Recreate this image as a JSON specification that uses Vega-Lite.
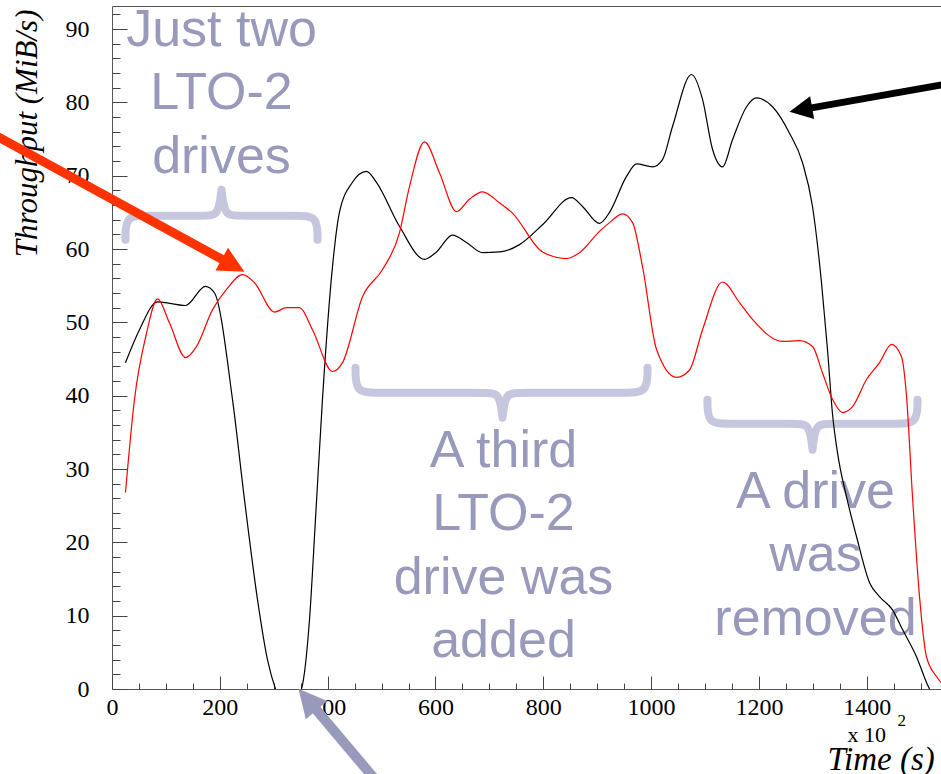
{
  "$schema": "https://vega.github.io/schema/vega-lite/v6.json",
  "width": 830,
  "height": 683,
  "autosize": {"type": "none"},
  "padding": {"left": 112, "top": 6, "right": 0, "bottom": 85},
  "background": "white",
  "config": {
    "view": {"stroke": "#555555", "strokeWidth": 1},
    "axis": {"domain": false, "grid": false, "labelFont": "Liberation Serif", "labelFontSize": 24, "labelColor": "#000000", "tickColor": "#444444", "tickWidth": 1, "labelOverlap": false, "labelFlush": false, "titleFont": "Liberation Serif", "titleFontStyle": "italic", "titleFontWeight": "normal", "titleColor": "#000000"}
  },
  "datasets": {
    "throughput": [
      {"series": "black", "t": 25.0, "v": 44.5},
      {"series": "black", "t": 51.0, "v": 49.0},
      {"series": "black", "t": 84.4, "v": 52.8},
      {"series": "black", "t": 136.3, "v": 52.3},
      {"series": "black", "t": 173.4, "v": 54.9},
      {"series": "black", "t": 190.1, "v": 54.0},
      {"series": "black", "t": 223.5, "v": 39.5},
      {"series": "black", "t": 245.8, "v": 25.8},
      {"series": "black", "t": 269.9, "v": 12.2},
      {"series": "black", "t": 288.4, "v": 4.0},
      {"series": "black", "t": 303.3, "v": 0},
      {"series": "black", "t": 327.0, "v": -3.0},
      {"series": "black", "t": 351.5, "v": 0},
      {"series": "black", "t": 366.3, "v": 9.4},
      {"series": "black", "t": 377.4, "v": 23.1},
      {"series": "black", "t": 390.4, "v": 39.5},
      {"series": "black", "t": 409.0, "v": 57.6},
      {"series": "black", "t": 421.9, "v": 65.0},
      {"series": "black", "t": 446.0, "v": 69.1},
      {"series": "black", "t": 472.0, "v": 70.6},
      {"series": "black", "t": 490.5, "v": 69.1},
      {"series": "black", "t": 533.2, "v": 63.1},
      {"series": "black", "t": 579.6, "v": 58.6},
      {"series": "black", "t": 601.9, "v": 59.6},
      {"series": "black", "t": 631.6, "v": 61.9},
      {"series": "black", "t": 657.6, "v": 60.9},
      {"series": "black", "t": 687.3, "v": 59.5},
      {"series": "black", "t": 718.8, "v": 59.6},
      {"series": "black", "t": 755.9, "v": 60.6},
      {"series": "black", "t": 798.6, "v": 63.3},
      {"series": "black", "t": 852.4, "v": 67.0},
      {"series": "black", "t": 872.8, "v": 65.8},
      {"series": "black", "t": 904.3, "v": 63.5},
      {"series": "black", "t": 922.9, "v": 65.0},
      {"series": "black", "t": 954.4, "v": 69.9},
      {"series": "black", "t": 973.0, "v": 71.6},
      {"series": "black", "t": 1002.6, "v": 71.2},
      {"series": "black", "t": 1021.2, "v": 72.2},
      {"series": "black", "t": 1039.7, "v": 76.7},
      {"series": "black", "t": 1075.0, "v": 83.8},
      {"series": "black", "t": 1095.4, "v": 80.4},
      {"series": "black", "t": 1113.9, "v": 73.6},
      {"series": "black", "t": 1132.5, "v": 71.2},
      {"series": "black", "t": 1151.0, "v": 74.9},
      {"series": "black", "t": 1177.0, "v": 79.4},
      {"series": "black", "t": 1195.5, "v": 80.6},
      {"series": "black", "t": 1225.2, "v": 79.4},
      {"series": "black", "t": 1256.7, "v": 75.8},
      {"series": "black", "t": 1280.8, "v": 71.8},
      {"series": "black", "t": 1299.4, "v": 65.8},
      {"series": "black", "t": 1316.1, "v": 55.4},
      {"series": "black", "t": 1327.2, "v": 46.3},
      {"series": "black", "t": 1336.5, "v": 37.5},
      {"series": "black", "t": 1345.8, "v": 32.2},
      {"series": "black", "t": 1362.5, "v": 26.2},
      {"series": "black", "t": 1381.0, "v": 20.8},
      {"series": "black", "t": 1405.2, "v": 14.5},
      {"series": "black", "t": 1423.7, "v": 12.6},
      {"series": "black", "t": 1447.8, "v": 10.8},
      {"series": "black", "t": 1466.4, "v": 8.1},
      {"series": "black", "t": 1492.3, "v": 4.4},
      {"series": "black", "t": 1510.8, "v": 0.9},
      {"series": "black", "t": 1516.4, "v": 0},
      {"series": "red", "t": 25.0, "v": 26.8},
      {"series": "red", "t": 41.7, "v": 39.5},
      {"series": "red", "t": 64.0, "v": 48.5},
      {"series": "red", "t": 84.4, "v": 53.2},
      {"series": "red", "t": 106.7, "v": 49.9},
      {"series": "red", "t": 136.3, "v": 45.2},
      {"series": "red", "t": 156.7, "v": 46.7},
      {"series": "red", "t": 186.3, "v": 51.7},
      {"series": "red", "t": 212.4, "v": 54.5},
      {"series": "red", "t": 242.1, "v": 56.5},
      {"series": "red", "t": 264.3, "v": 55.4},
      {"series": "red", "t": 301.4, "v": 51.4},
      {"series": "red", "t": 323.7, "v": 52.0},
      {"series": "red", "t": 347.8, "v": 52.0},
      {"series": "red", "t": 371.9, "v": 49.0},
      {"series": "red", "t": 409.0, "v": 43.3},
      {"series": "red", "t": 427.6, "v": 44.5},
      {"series": "red", "t": 464.7, "v": 53.5},
      {"series": "red", "t": 501.8, "v": 57.2},
      {"series": "red", "t": 533.2, "v": 62.2},
      {"series": "red", "t": 551.8, "v": 68.5},
      {"series": "red", "t": 579.6, "v": 74.6},
      {"series": "red", "t": 607.4, "v": 70.4},
      {"series": "red", "t": 639.0, "v": 65.1},
      {"series": "red", "t": 663.1, "v": 66.8},
      {"series": "red", "t": 687.3, "v": 67.8},
      {"series": "red", "t": 718.8, "v": 66.3},
      {"series": "red", "t": 742.8, "v": 64.9},
      {"series": "red", "t": 798.6, "v": 59.6},
      {"series": "red", "t": 843.1, "v": 58.7},
      {"series": "red", "t": 867.2, "v": 59.5},
      {"series": "red", "t": 904.3, "v": 62.4},
      {"series": "red", "t": 922.9, "v": 63.6},
      {"series": "red", "t": 947.0, "v": 64.8},
      {"series": "red", "t": 965.6, "v": 63.6},
      {"series": "red", "t": 984.1, "v": 57.6},
      {"series": "red", "t": 1010.1, "v": 46.3},
      {"series": "red", "t": 1047.2, "v": 42.5},
      {"series": "red", "t": 1071.3, "v": 43.5},
      {"series": "red", "t": 1095.4, "v": 49.0},
      {"series": "red", "t": 1132.5, "v": 55.5},
      {"series": "red", "t": 1164.0, "v": 52.7},
      {"series": "red", "t": 1188.1, "v": 50.4},
      {"series": "red", "t": 1243.8, "v": 47.4},
      {"series": "red", "t": 1275.3, "v": 47.5},
      {"series": "red", "t": 1299.4, "v": 46.7},
      {"series": "red", "t": 1318.0, "v": 43.1},
      {"series": "red", "t": 1336.5, "v": 39.5},
      {"series": "red", "t": 1355.1, "v": 37.7},
      {"series": "red", "t": 1373.6, "v": 38.5},
      {"series": "red", "t": 1399.6, "v": 42.2},
      {"series": "red", "t": 1423.7, "v": 44.5},
      {"series": "red", "t": 1446.0, "v": 47.0},
      {"series": "red", "t": 1464.5, "v": 45.3},
      {"series": "red", "t": 1473.8, "v": 39.9},
      {"series": "red", "t": 1484.9, "v": 26.2},
      {"series": "red", "t": 1497.9, "v": 12.6},
      {"series": "red", "t": 1510.8, "v": 4.4},
      {"series": "red", "t": 1529.4, "v": 1.7},
      {"series": "red", "t": 1539.0, "v": 0.8}
    ],
    "braces": [
      {"brace": "b1", "i": 1, "t": 25.0, "v": 61.27},
      {"brace": "b1", "i": 2, "t": 25.0, "v": 64.54},
      {"brace": "b1", "i": 3, "t": 62.1, "v": 64.54},
      {"brace": "b1", "i": 4, "t": 173.4, "v": 64.54},
      {"brace": "b1", "i": 5, "t": 197.5, "v": 64.54},
      {"brace": "b1", "i": 6, "t": 203.1, "v": 68.09},
      {"brace": "b1", "i": 7, "t": 203.1, "v": 68.09},
      {"brace": "b1", "i": 8, "t": 203.1, "v": 68.09},
      {"brace": "b1", "i": 9, "t": 208.7, "v": 64.54},
      {"brace": "b1", "i": 10, "t": 232.8, "v": 64.54},
      {"brace": "b1", "i": 11, "t": 344.1, "v": 64.54},
      {"brace": "b1", "i": 12, "t": 381.2, "v": 64.54},
      {"brace": "b1", "i": 13, "t": 381.2, "v": 61.27},
      {"brace": "b2", "i": 1, "t": 451.7, "v": 43.82},
      {"brace": "b2", "i": 2, "t": 451.7, "v": 40.41},
      {"brace": "b2", "i": 3, "t": 488.8, "v": 40.41},
      {"brace": "b2", "i": 4, "t": 694.7, "v": 40.41},
      {"brace": "b2", "i": 5, "t": 718.8, "v": 40.41},
      {"brace": "b2", "i": 6, "t": 724.3, "v": 37.0},
      {"brace": "b2", "i": 7, "t": 724.3, "v": 37.0},
      {"brace": "b2", "i": 8, "t": 724.3, "v": 37.0},
      {"brace": "b2", "i": 9, "t": 729.9, "v": 40.41},
      {"brace": "b2", "i": 10, "t": 754.0, "v": 40.41},
      {"brace": "b2", "i": 11, "t": 956.2, "v": 40.41},
      {"brace": "b2", "i": 12, "t": 993.3, "v": 40.41},
      {"brace": "b2", "i": 13, "t": 993.3, "v": 43.82},
      {"brace": "b3", "i": 1, "t": 1104.6, "v": 39.45},
      {"brace": "b3", "i": 2, "t": 1104.6, "v": 36.18},
      {"brace": "b3", "i": 3, "t": 1141.7, "v": 36.18},
      {"brace": "b3", "i": 4, "t": 1269.7, "v": 36.18},
      {"brace": "b3", "i": 5, "t": 1293.8, "v": 36.18},
      {"brace": "b3", "i": 6, "t": 1299.4, "v": 32.63},
      {"brace": "b3", "i": 7, "t": 1299.4, "v": 32.63},
      {"brace": "b3", "i": 8, "t": 1299.4, "v": 32.63},
      {"brace": "b3", "i": 9, "t": 1304.9, "v": 36.18},
      {"brace": "b3", "i": 10, "t": 1329.0, "v": 36.18},
      {"brace": "b3", "i": 11, "t": 1457.0, "v": 36.18},
      {"brace": "b3", "i": 12, "t": 1494.1, "v": 36.18},
      {"brace": "b3", "i": 13, "t": 1494.1, "v": 39.45}
    ],
    "notes": [
      {"label": "Just two\nLTO-2\ndrives", "t": 203.1, "v": 87.7},
      {"label": "A third\nLTO-2\ndrive was\nadded", "t": 726.2, "v": 30.32},
      {"label": "A drive\nwas\nremoved", "t": 1304.9, "v": 24.72}
    ],
    "arrows": [
      {"arrow": "red", "t": -227.2, "v": 75.93, "t2": 213.2, "v2": 58.22, "tipT": 245.8, "tipV": 56.91},
      {"arrow": "black", "t": 1572.0, "v": 82.82, "t2": 1289.5, "v2": 79.15, "tipT": 1256.7, "tipV": 78.73},
      {"arrow": "blue", "t": 496.2, "v": -13.05, "t2": 369.9, "v2": -2.05, "tipT": 345.9, "tipV": 0.04}
    ],
    "exponent": [
      {"label": "x 10", "t": 1364.3, "v": -7.19},
      {"label": "2", "t": 1457.0, "v": -5.0}
    ]
  },
  "encoding": {
    "x": {
      "field": "t", "type": "quantitative",
      "scale": {"domain": [0, 1539.6], "nice": false, "zero": false},
      "axis": {
        "values": [0,50,100,150,200,250,300,350,400,450,500,550,600,650,700,750,800,850,900,950,1000,1050,1100,1150,1200,1250,1300,1350,1400,1450,1500],
        "format": "d",
        "labelExpr": "datum.value % 200 === 0 ? datum.label : ''",
        "tickSize": {"condition": {"test": "datum.value % 200 === 0", "value": -13}, "value": -6},
        "labelPadding": 19,
        "title": "Time (s)", "titleFontSize": 33, "titleX": 715, "titleY": 80, "titleAlign": "left", "titleBaseline": "alphabetic"
      }
    },
    "y": {
      "field": "v", "type": "quantitative",
      "scale": {"domain": [0, 93.14], "nice": false, "zero": false},
      "axis": {
        "values": [0,2,4,6,8,10,12,14,16,18,20,22,24,26,28,30,32,34,36,38,40,42,44,46,48,50,52,54,56,58,60,62,64,66,68,70,72,74,76,78,80,82,84,86,88,90,92],
        "labelExpr": "datum.value % 10 === 0 ? datum.label : ''",
        "tickSize": {"condition": {"test": "datum.value % 10 === 0", "value": -15}, "value": -8},
        "labelPadding": 38,
        "title": "Throughput (MiB/s)", "titleFontSize": 31, "titleX": -76, "titleY": 3, "titleAlign": "right", "titleBaseline": "alphabetic", "titleAngle": -90
      }
    }
  },
  "layer": [
    {
      "data": {"name": "braces"},
      "mark": {"type": "line", "interpolate": "basis", "stroke": "#c6c6df", "strokeWidth": 8, "strokeCap": "round", "strokeJoin": "round"},
      "encoding": {"detail": {"field": "brace"}, "order": {"field": "i", "type": "quantitative"}}
    },
    {
      "data": {"name": "notes"},
      "mark": {"type": "text", "font": "Liberation Sans", "fontSize": 52, "lineBreak": "\n", "lineHeight": 63.5, "align": "center", "baseline": "alphabetic", "color": "#9999bb"},
      "encoding": {"text": {"field": "label"}}
    },
    {
      "data": {"name": "throughput"},
      "mark": {"type": "line", "interpolate": "monotone", "strokeWidth": 1.2, "clip": true},
      "encoding": {
        "color": {"field": "series", "type": "nominal", "scale": {"domain": ["black", "red"], "range": ["#000000", "#ff0000"]}, "legend": null}
      }
    },
    {
      "data": {"name": "exponent"},
      "transform": [{"filter": "datum.label === 'x 10'"}],
      "mark": {"type": "text", "font": "Liberation Serif", "fontSize": 22, "align": "left", "baseline": "alphabetic", "color": "#000000"},
      "encoding": {"text": {"field": "label"}}
    },
    {
      "data": {"name": "exponent"},
      "transform": [{"filter": "datum.label === '2'"}],
      "mark": {"type": "text", "font": "Liberation Serif", "fontSize": 17, "align": "left", "baseline": "alphabetic", "color": "#000000"},
      "encoding": {"text": {"field": "label"}}
    },
    {
      "data": {"name": "arrows"},
      "transform": [{"filter": "datum.arrow === 'red'"}],
      "mark": {"type": "rule", "color": "#ff3300", "strokeWidth": 9},
      "encoding": {"x2": {"field": "t2"}, "y2": {"field": "v2"}}
    },
    {
      "data": {"name": "arrows"},
      "transform": [{"filter": "datum.arrow === 'red'"}],
      "mark": {"type": "point", "shape": "M0,0L-1,-0.5L-1,0.5Z", "filled": true, "opacity": 1, "color": "#ff3300", "size": 2704, "angle": 28.7, "strokeWidth": 0},
      "encoding": {"x": {"field": "tipT", "type": "quantitative"}, "y": {"field": "tipV", "type": "quantitative"}}
    },
    {
      "data": {"name": "arrows"},
      "transform": [{"filter": "datum.arrow === 'black'"}],
      "mark": {"type": "rule", "color": "#000000", "strokeWidth": 7},
      "encoding": {"x2": {"field": "t2"}, "y2": {"field": "v2"}}
    },
    {
      "data": {"name": "arrows"},
      "transform": [{"filter": "datum.arrow === 'black'"}],
      "mark": {"type": "point", "shape": "M0,0L-1,-0.5L-1,0.5Z", "filled": true, "opacity": 1, "color": "#000000", "size": 2116, "angle": 170.0, "strokeWidth": 0},
      "encoding": {"x": {"field": "tipT", "type": "quantitative"}, "y": {"field": "tipV", "type": "quantitative"}}
    },
    {
      "data": {"name": "arrows"},
      "transform": [{"filter": "datum.arrow === 'blue'"}],
      "mark": {"type": "rule", "color": "#9999bb", "strokeWidth": 10},
      "encoding": {"x2": {"field": "t2"}, "y2": {"field": "v2"}}
    },
    {
      "data": {"name": "arrows"},
      "transform": [{"filter": "datum.arrow === 'blue'"}],
      "mark": {"type": "point", "shape": "M0,0L-1,-0.5L-1,0.5Z", "filled": true, "opacity": 1, "color": "#9999bb", "size": 3136, "angle": 229.85, "strokeWidth": 0},
      "encoding": {"x": {"field": "tipT", "type": "quantitative"}, "y": {"field": "tipV", "type": "quantitative"}}
    }
  ]
}
